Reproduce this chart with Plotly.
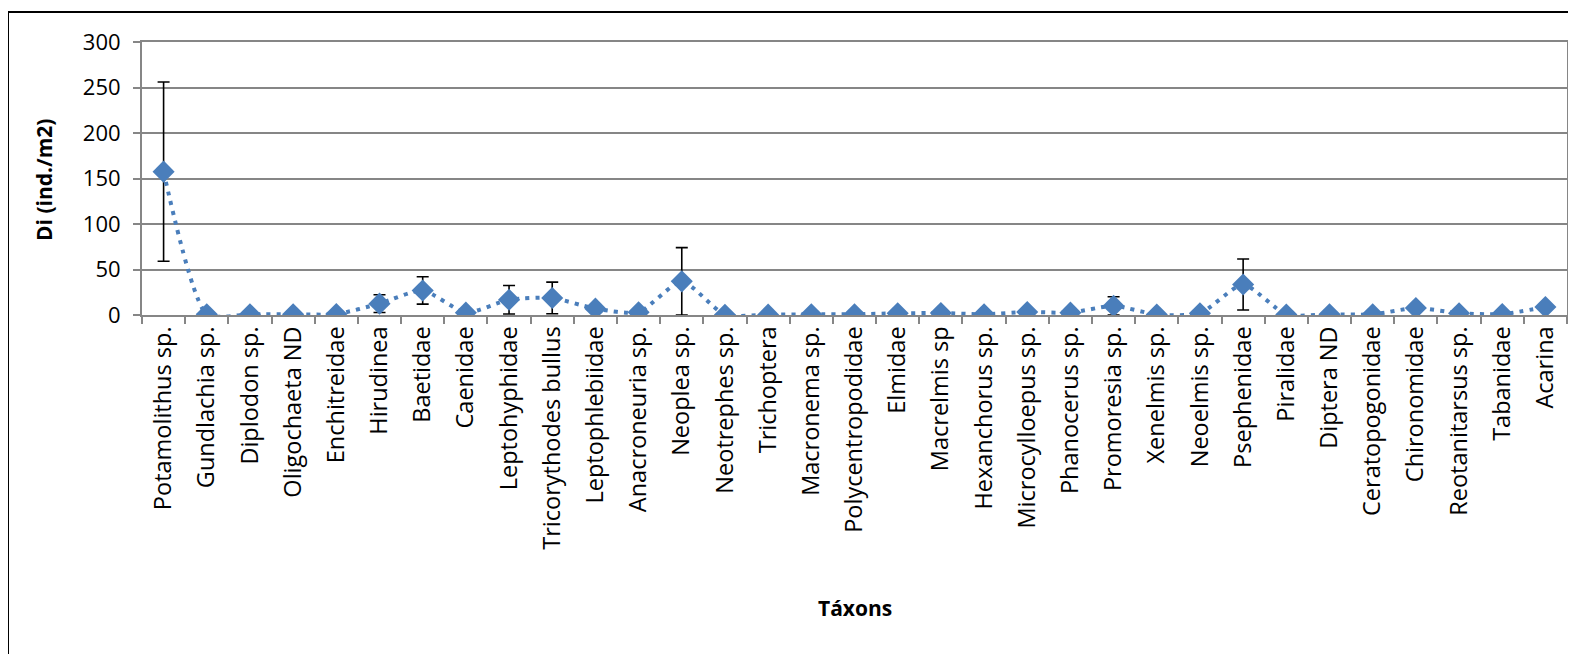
import plotly.graph_objects as go

taxa = ["Potamolithus sp.", "Gundlachia sp.", "Diplodon sp.", "Oligochaeta ND", "Enchitreidae",
        "Hirudinea", "Baetidae", "Caenidae", "Leptohyphidae", "Tricorythodes bullus",
        "Leptophlebiidae", "Anacroneuria sp.", "Neoplea sp.", "Neotrephes sp.", "Trichoptera",
        "Macronema sp.", "Polycentropodidae", "Elmidae", "Macrelmis sp", "Hexanchorus sp.",
        "Microcylloepus sp.", "Phanocerus sp.", "Promoresia sp.", "Xenelmis sp.", "Neoelmis sp.",
        "Psephenidae", "Piralidae", "Diptera ND", "Ceratopogonidae", "Chironomidae",
        "Reotanitarsus sp.", "Tabanidae", "Acarina"]

di = [157.5, 0.7, 0.7, 0.7, 1.0,
      12.5, 27.0, 2.6, 16.8, 18.7,
      7.0, 2.9, 37.0, 0.3, 0.4,
      0.8, 0.8, 1.8, 2.2, 0.8,
      3.3, 2.6, 10.0, 0.5, 1.8,
      33.5, 0.5, 0.7, 0.7, 7.7,
      2.0, 1.0, 8.8]

err = [98.5, 0, 0, 0, 0,
       9.7, 15.0, 0, 15.7, 17.4,
       0, 0, 37.0, 0, 0,
       0, 0, 0, 0, 0,
       0, 0, 10.0, 0, 0,
       28.0, 0, 0, 0, 2.5,
       0, 0, 2.5]

y_ticks = [0, 50, 100, 150, 200, 250, 300]

FONT = "Open Sans"
blue = "#4A7EBB"
grid = "#868686"

fig = go.Figure()
fig.add_trace(go.Scatter(
    x=taxa, y=di, mode="lines+markers",
    line=dict(color=blue, width=4, dash="4px,6px", shape="spline", smoothing=0.6),
    marker=dict(symbol="diamond", size=17, color=blue, line=dict(width=0)),
    error_y=dict(type="data", array=err, visible=True, color="black", thickness=1.6, width=6),
    showlegend=False,
))

# page has an 8px body margin; figure coords = page coords - 8
W, H = 1576, 654
ml, mr, mt, mb = 134, 17, 34, 347
pw, ph = W - ml - mr, H - mt - mb

def px(x):
    return (x - ml) / pw

def py(y):
    return (H - mb - y) / ph

fig.update_layout(
    width=W, height=H,
    margin=dict(l=ml, r=mr, t=mt, b=mb, pad=0),
    plot_bgcolor="white", paper_bgcolor="white",
    font=dict(family=FONT, size=22, color="black"),
    xaxis=dict(
        type="category", categoryorder="array", categoryarray=taxa,
        showline=True, linecolor=grid, linewidth=2, mirror=True,
        ticks="outside", tickson="boundaries", ticklen=7, tickcolor=grid, tickwidth=2,
        tickangle=-90, tickfont=dict(family=FONT, size=23.5, color="black"),
        showgrid=False, range=[-0.5, len(taxa) - 0.5], automargin=False,
    ),
    yaxis=dict(
        range=[0, 300], tickvals=y_ticks,
        showline=True, linecolor=grid, linewidth=2, mirror=True,
        ticks="outside", ticklen=7, tickcolor=grid, tickwidth=2,
        showgrid=True, gridcolor=grid, gridwidth=2,
        zeroline=False, automargin=False,
        tickfont=dict(family=FONT, size=22, color="black"),
        ticklabelstandoff=8,
    ),
    annotations=[
        dict(text="<b>Táxons</b>", xref="paper", yref="paper",
             x=px(855 - 8), y=py(608 - 8), xanchor="center", yanchor="middle",
             showarrow=False, font=dict(family=FONT, size=21, color="black")),
        dict(text="<b>Di (ind./m2)</b>", xref="paper", yref="paper",
             x=px(44 - 8), y=py(180 - 8), xanchor="center", yanchor="middle",
             textangle=-90, showarrow=False, font=dict(family=FONT, size=21, color="black")),
    ],
    shapes=[dict(
        type="rect", xref="paper", yref="paper",
        x0=px(0), x1=px(1600),
        y0=py(700), y1=py(4),
        line=dict(color="black", width=2), fillcolor="rgba(0,0,0,0)", layer="below",
    )],
)

fig.write_html("out.html")
